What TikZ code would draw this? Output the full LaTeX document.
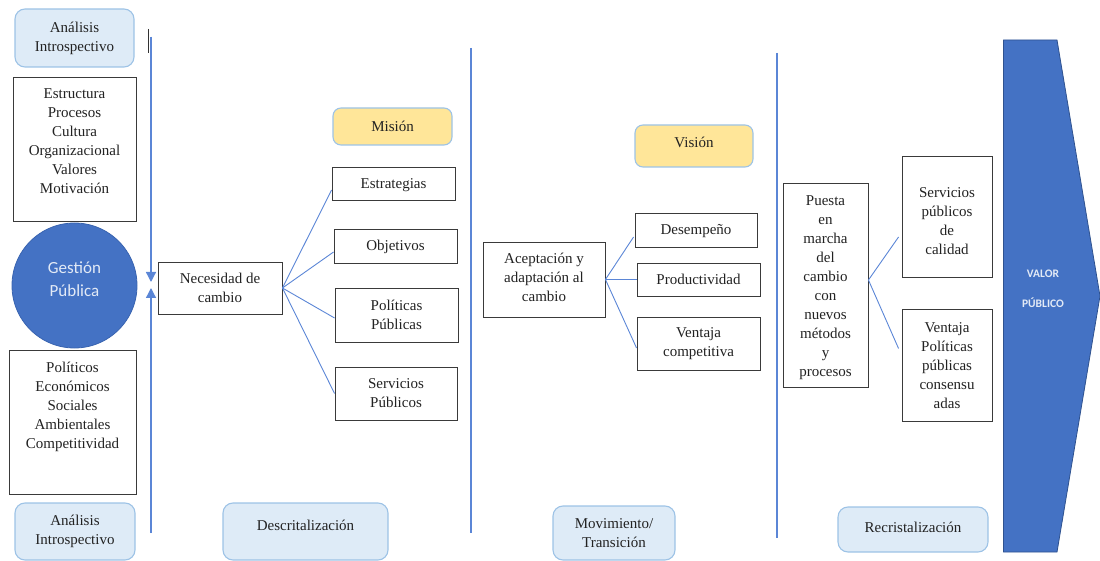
\documentclass[tikz,border=0pt]{standalone}
\usepackage{fontspec}
\setmainfont{Liberation Serif}
\newfontfamily\calib{Carlito}
\usetikzlibrary{arrows.meta,calc}
\definecolor{txtc}{HTML}{222222}
\definecolor{paleblue}{HTML}{DEEBF7}
\definecolor{edgeblue}{HTML}{9DC3E6}
\definecolor{yel}{HTML}{FFE699}
\definecolor{boxgray}{HTML}{3A3A3A}
\definecolor{linkblue}{HTML}{5B86D6}
\definecolor{circblue}{HTML}{4472C4}
\definecolor{circedge}{HTML}{3863B0}
\definecolor{arrowedge}{HTML}{2F528F}
\definecolor{circtext}{HTML}{E3EAF6}
\begin{document}
\begin{tikzpicture}[x=1pt,y=-1pt,
  rbox/.style={draw=edgeblue, fill=paleblue, rounded corners=10pt, line width=1.1pt, inner sep=0pt},
  ybox/.style={draw=edgeblue, fill=yel, rounded corners=8pt, line width=1.1pt, inner sep=0pt},
  wbox/.style={draw=boxgray, fill=white, line width=0.9pt, inner sep=0pt},
  tx/.style={font=\fontsize{15}{19}\selectfont, text=txtc, align=center, inner sep=0pt},
  oneline/.style={text height=10pt, text depth=0pt},
  conn/.style={draw=linkblue, line width=0.9pt},
  vline/.style={draw=linkblue, line width=1.3pt},
  tipstyle/.style={-{Triangle[width=10pt,length=10pt]}}
]
\useasboundingbox (0,0) rectangle (1100,561);

% left column
\node[rbox, tx, minimum width=119pt, minimum height=58pt] (anatop) at (74.5,38) {Análisis\\Introspectivo};
\node[wbox, minimum width=123pt, minimum height=144pt] (estr) at (74.5,149) {};
\node[tx, anchor=north] (estrtxt) at (74.5,88) {Estructura\\Procesos\\Cultura\\Organizacional\\Valores\\Motivación};
\node[circle, fill=circblue, draw=circedge, line width=0.8pt, minimum size=125pt, inner sep=0pt] (gp) at (74.5,285.5) {};
\node[font=\calib\fontsize{17}{23}\selectfont, text=circtext, align=center, inner sep=0pt] (gptxt) at (74.5,279.5) {Gestión\\Pública};
\node[wbox, minimum width=127pt, minimum height=144pt] (pol) at (72.5,422) {};
\node[tx, anchor=north] (poltxt) at (72.5,361.5) {Políticos\\Económicos\\Sociales\\Ambientales\\Competitividad};
\node[rbox, tx, minimum width=120pt, minimum height=57pt] (anabot) at (75,531.5) {Análisis\\Introspectivo};

% vertical line 1 with arrows
\coordinate (m1) at (148.5,29);
\coordinate (m2) at (148.5,53);
\draw[line width=1.2pt, black!80] (m1) -- (m2);
\coordinate (v1top) at (151,37);
\coordinate (v1a) at (151,282);
\coordinate (v1bot) at (151,533);
\coordinate (v1b) at (151,288);
\draw[vline, tipstyle, fill=circblue] (v1top) -- (v1a);
\draw[vline, tipstyle, fill=circblue] (v1bot) -- (v1b);

% section 1
\node[wbox, tx, minimum width=124pt, minimum height=52pt] (nec) at (220,288) {Necesidad de\\cambio};
\node[ybox, tx, oneline, minimum width=119pt, minimum height=37pt] (mis) at (392.5,126.5) {Misión};
\node[wbox, tx, oneline, minimum width=123pt, minimum height=33pt] (estrat) at (393.5,183.5) {Estrategias};
\node[wbox, tx, oneline, minimum width=123pt, minimum height=34pt] (obj) at (395.5,246) {Objetivos};
\node[wbox, tx, minimum width=123pt, minimum height=54pt] (polpub) at (396.5,315) {Políticas\\Públicas};
\node[wbox, tx, minimum width=122pt, minimum height=53pt] (servpub) at (396,393.5) {Servicios\\Públicos};
\draw[conn] (nec.east) -- ([yshift=-6.5pt]estrat.west);
\draw[conn] (nec.east) -- ([yshift=-6pt]obj.west);
\draw[conn] (nec.east) -- ([yshift=-3pt]polpub.west);
\draw[conn] (nec.east) -- (servpub.west);
\node[rbox, minimum width=165pt, minimum height=57pt] (desc) at (305.5,531.5) {};
\node[tx] (desctxt) at (305.5,525) {Descritalización};

% vertical line 2
\coordinate (v2top) at (471,48);
\coordinate (v2bot) at (471,533);
\draw[vline] (v2top) -- (v2bot);

% section 2
\node[ybox, minimum width=118pt, minimum height=42pt] (vis) at (694,146) {};
\node[tx, oneline] (vistxt) at (694,143) {Visión};
\node[wbox, minimum width=122pt, minimum height=75pt] (acep) at (544,279.5) {};
\node[tx] (aceptxt) at (544,277.5) {Aceptación y\\adaptación al\\cambio};
\node[wbox, tx, oneline, minimum width=122pt, minimum height=34pt] (desem) at (696,230) {Desempeño};
\node[wbox, tx, oneline, minimum width=123pt, minimum height=33pt] (prod) at (698.5,279.5) {Productividad};
\node[wbox, tx, minimum width=123pt, minimum height=53pt] (vent) at (698.5,343.5) {Ventaja\\competitiva};
\draw[conn] (acep.east) -- ([xshift=-1pt,yshift=-7pt]desem.west);
\draw[conn] (acep.east) -- (prod.west);
\draw[conn] (acep.east) -- ([yshift=-4.5pt]vent.west);
\node[rbox, tx, minimum width=122pt, minimum height=54pt] (mov) at (614,533) {Movimiento/\\Transición};

% vertical line 3
\coordinate (v3top) at (777,53);
\coordinate (v3bot) at (777,538);
\draw[vline] (v3top) -- (v3bot);

% section 3
\node[wbox, minimum width=85pt, minimum height=204pt] (puesta) at (825.5,285) {};
\node[tx] (puestatxt) at (825.5,287.5) {Puesta\\en\\marcha\\del\\cambio\\con\\nuevos\\métodos\\y\\procesos};
\node[wbox, minimum width=90pt, minimum height=121pt] (servc) at (947,216.5) {};
\node[tx] (servctxt) at (947,221.5) {Servicios\\públicos\\de\\calidad};
\node[wbox, tx, minimum width=90pt, minimum height=112pt] (ventp) at (947,365.5) {Ventaja\\Políticas\\públicas\\consensu\\adas};
\draw[conn] ([yshift=5pt]puesta.east) -- ([xshift=-3pt,yshift=-20.5pt]servc.west);
\draw[conn] ([yshift=5pt]puesta.east) -- ([xshift=-3pt,yshift=17pt]ventp.west);
\node[rbox, minimum width=150pt, minimum height=45pt] (recr) at (913,529.5) {};
\node[tx] (recrtxt) at (913,527) {Recristalización};

% VALOR PUBLICO arrow
\coordinate (a1) at (1003.5,40);
\coordinate (a2) at (1057,40);
\coordinate (a3) at (1100,296);
\coordinate (a4) at (1057,552);
\coordinate (a5) at (1003.5,552);
\draw[fill=circblue, draw=arrowedge, line width=0.8pt] (a1) -- (a2) -- (a3) -- (a4) -- (a5) -- cycle;
\node[font=\calib\bfseries\fontsize{11.5}{30}\selectfont, text=circtext, align=center, inner sep=0pt] (valor) at (1043,288.5) {VALOR\\PÚBLICO};
\end{tikzpicture}
\end{document}
